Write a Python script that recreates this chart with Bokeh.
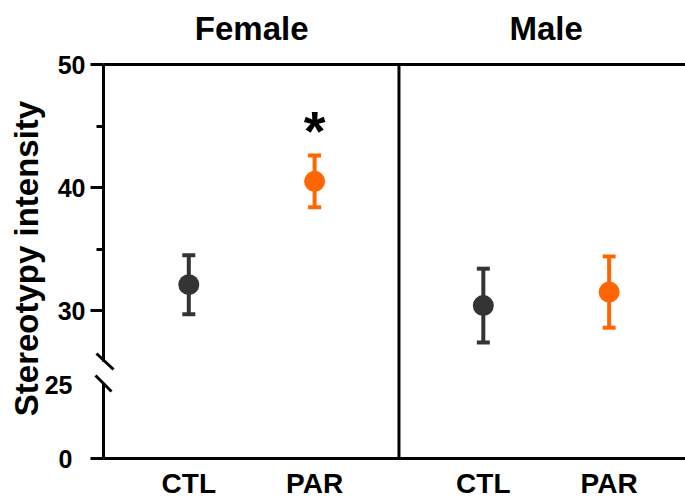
from bokeh.plotting import figure
from bokeh.models import (Range1d, LinearAxis, FixedTicker, Arrow, Label,
                          ColumnDataSource)
from bokeh.embed import file_html
from bokeh.resources import INLINE
from bokeh.core.properties import value

# ---------------- data ----------------
sexes = ["Female", "Male"]
groups = ["CTL", "PAR"]
female_mean = [32.1, 40.5]
female_sem = [2.4, 2.1]
male_mean = [30.4, 31.5]
male_sem = [3.0, 2.9]
female_sig = ["", "*"]
male_sig = ["", ""]
group_colors = ["#343434", "#FF6600"]

upper_ticks = [30, 40, 50]
upper_minor = [35, 45]
lower_ticks = [0, 25]
y_label = "Stereotypy intensity"

# ---------------- layout constants ----------------
FONT = "Liberation Sans"
W, H = 685, 500
AXIS_PX = 103                # pixel column of the y axis
TOP_PX, BOTTOM_PX = 64, 458  # pixel rows of the top border and of the x axis
GROUP_STEP = 2.341           # distance between the two panels in category units
X_START, X_END = -0.678, 3.948   # data x at the y axis and at the right edge
Y_TOP_END = 50
TOP_PX_PER_UNIT = 12.3       # scale of the upper (30-50) segment
LOW_PX_PER_UNIT = 2.96       # scale of the lower (0-25) segment
UPPER_BOUND = 25.85
LOWER_BOUND = 25.3

px_per_x = (W - AXIS_PX) / (X_END - X_START)
x_left = X_START - AXIS_PX / px_per_x            # plotting area covers the whole canvas

def xpx(px):
    return X_START + (px - AXIS_PX) / px_per_x

def ypx(py):
    return Y_TOP_END - (py - TOP_PX) / TOP_PX_PER_UNIT

y_bottom_val = ypx(BOTTOM_PX)                    # upper-scale value at the x axis
low_start = -(H - BOTTOM_PX) / LOW_PX_PER_UNIT
low_end = BOTTOM_PX / LOW_PX_PER_UNIT

xs, ys, es, cols, sig = [], [], [], [], []
for g, (mvals, svals, sg) in enumerate([(female_mean, female_sem, female_sig),
                                         (male_mean, male_sem, male_sig)]):
    for c in range(len(groups)):
        xs.append(g * GROUP_STEP + c)
        ys.append(mvals[c])
        es.append(svals[c])
        cols.append(group_colors[c])
        sig.append(sg[c])

src = ColumnDataSource(dict(
    x=xs, y=ys,
    lo=[m - s for m, s in zip(ys, es)],
    hi=[m + s for m, s in zip(ys, es)],
    color=cols, sig=sig,
    sig_y=[m + s + 2.0 for m, s in zip(ys, es)]))

group_centers = [g * GROUP_STEP + 0.5 for g in range(len(sexes))]
divider_x = (1 + GROUP_STEP) / 2.0

p = figure(width=W, height=H, x_range=Range1d(x_left, X_END),
           y_range=Range1d(ypx(H), ypx(0)),
           x_axis_type=None, y_axis_type=None,
           output_backend="svg", toolbar_location=None,
           min_border=0, min_border_left=0, min_border_right=0,
           min_border_top=0, min_border_bottom=0)
p.extra_y_ranges = {"low": Range1d(low_start, low_end)}
p.outline_line_color = None
p.grid.visible = False
p.background_fill_color = "white"
p.border_fill_color = "white"

tick_style = dict(axis_line_width=3, major_tick_line_width=3, minor_tick_line_width=3,
                  major_label_text_font=FONT, major_label_text_font_size="25px",
                  major_label_text_font_style="bold", major_label_text_color="black")

# upper segment of the broken y axis
ya = LinearAxis(ticker=FixedTicker(ticks=upper_ticks, minor_ticks=upper_minor),
                bounds=(UPPER_BOUND, Y_TOP_END), fixed_location=X_START,
                major_tick_out=13, major_tick_in=0, minor_tick_out=7, minor_tick_in=0,
                major_label_standoff=5, **tick_style)
p.add_layout(ya, "left")

# lower segment of the broken y axis (own scale)
ya2 = LinearAxis(y_range_name="low",
                 ticker=FixedTicker(ticks=lower_ticks, minor_ticks=[lower_ticks[0]]),
                 bounds=(0, LOWER_BOUND), fixed_location=X_START,
                 major_tick_out=0, major_tick_in=0, minor_tick_out=13, minor_tick_in=0,
                 major_label_standoff=18, **tick_style)
p.add_layout(ya2, "left")

# panel titles on top (axis line = top border)
xa_top = LinearAxis(ticker=FixedTicker(ticks=group_centers, minor_ticks=[]),
                    major_label_overrides={c: s for c, s in zip(group_centers, sexes)},
                    bounds=(X_START, X_END), fixed_location=Y_TOP_END,
                    axis_line_width=3, major_tick_out=0, major_tick_in=0,
                    minor_tick_out=0, minor_tick_in=0,
                    major_label_text_font=FONT, major_label_text_font_size="33px",
                    major_label_text_font_style="bold", major_label_text_color="black",
                    major_label_standoff=18)
p.add_layout(xa_top, "above")

# group labels at bottom
xa_bot = LinearAxis(ticker=FixedTicker(ticks=xs, minor_ticks=[]),
                    major_label_overrides={x: groups[i % len(groups)] for i, x in enumerate(xs)},
                    bounds=(X_START, X_END), fixed_location=y_bottom_val,
                    axis_line_width=3, major_tick_out=0, major_tick_in=0,
                    minor_tick_out=0, minor_tick_in=0,
                    major_label_text_font=FONT, major_label_text_font_size="28px",
                    major_label_text_font_style="bold", major_label_text_color="black",
                    major_label_standoff=9)
p.add_layout(xa_bot, "below")

# panel divider
p.segment(x0=[divider_x], y0=[y_bottom_val], x1=[divider_x], y1=[Y_TOP_END],
          line_width=3, line_color="black")

# break marks
p.add_layout(Arrow(end=None, x_start=xpx(96), y_start=ypx(353), x_end=xpx(113), y_end=ypx(369),
                   line_width=3, line_color="black"))
p.add_layout(Arrow(end=None, x_start=xpx(95), y_start=ypx(375), x_end=xpx(111), y_end=ypx(391),
                   line_width=3, line_color="black"))

# error bars and points
p.segment(x0="x", y0="lo", x1="x", y1="hi", line_color="color", line_width=4, source=src)
p.scatter(x="x", y="lo", marker="dash", size=13, line_color="color", line_width=4, source=src)
p.scatter(x="x", y="hi", marker="dash", size=13, line_color="color", line_width=4, source=src)
p.scatter(x="x", y="y", marker="circle", size=21, fill_color="color", line_color=None, source=src)
p.text(x="x", y="sig_y", text="sig", text_font=value(FONT), text_font_size="56px",
       text_font_style="bold", text_align="center", text_baseline="middle",
       text_color="black", source=src)

# y-axis title, centred on the whole broken axis
p.add_layout(Label(x=xpx(26), y=ypx(258), text=y_label, angle=90, angle_units="deg",
                   text_align="center", text_baseline="middle", text_font=FONT,
                   text_font_size="33px", text_font_style="bold", text_color="black"))

open("out.html", "w").write(file_html(p, INLINE))
